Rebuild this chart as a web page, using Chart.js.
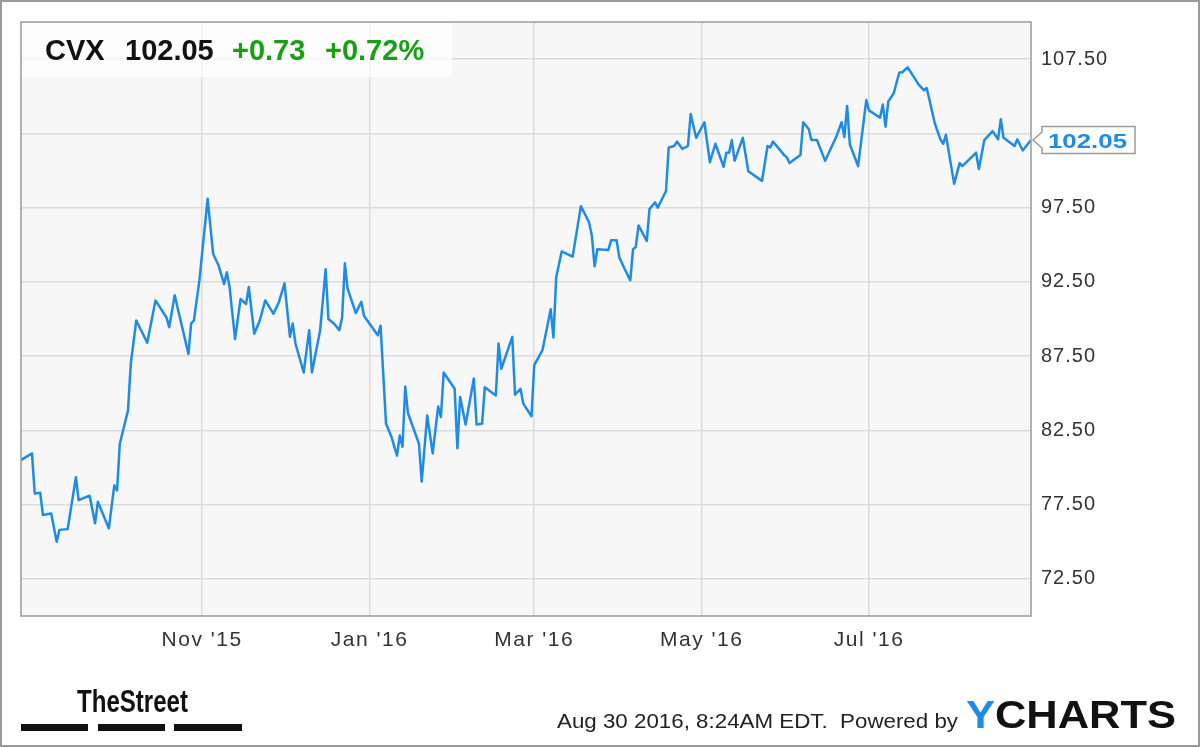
<!DOCTYPE html>
<html>
<head>
<meta charset="utf-8">
<script src="https://cdn.jsdelivr.net/npm/chart.js@4.4.0/dist/chart.umd.min.js"></script>
<style>
html,body{margin:0;padding:0;background:#fff;}
#wrap{width:1200px;height:747px;position:relative;}
canvas{display:block;}
</style>
</head>
<body>
<div id="wrap"><canvas id="c" width="1200" height="747"></canvas></div>
<script>
// ---- data ----
const startDate = '2015-08-27';
const endDate = '2016-08-29';
const dayOffsets = [0,4,5,7,8,11,13,14,17,20,21,25,27,28,32,34,35,36,39,40,42,46,49,53,54,56,61,62,63,65,68,70,72,74,75,76,78,80,82,83,85,87,89,92,94,96,98,99,100,103,105,106,109,111,112,114,116,117,118,119,122,124,125,130,131,133,135,137,138,139,140,141,145,146,148,150,152,153,154,158,159,160,162,165,166,168,169,173,174,175,179,180,182,183,186,187,190,193,194,195,197,201,204,207,208,209,210,214,215,217,218,220,222,223,224,225,228,229,231,232,235,236,238,239,241,243,244,246,249,251,253,256,257,258,259,260,263,265,270,272,273,274,278,279,280,284,285,287,288,290,293,297,299,300,301,302,305,308,309,313,314,315,316,318,320,321,323,326,327,329,330,333,335,336,337,340,342,343,348,349,351,354,356,357,358,362,363,365,368];
const prices = [80.5,80.95,78.25,78.3,76.8,76.9,75.0,75.8,75.85,79.35,77.8,78.1,76.25,77.7,75.9,78.8,78.45,81.6,83.85,87.0,89.9,88.4,91.25,90.1,89.45,91.6,87.65,89.7,89.9,92.6,98.1,94.4,93.6,92.35,93.15,92.15,88.65,91.35,91.0,92.15,89.0,89.9,91.25,90.35,91.15,92.4,88.8,89.7,88.35,86.4,89.25,86.4,89.25,93.35,90.0,89.7,89.25,90.1,93.75,92.05,90.4,91.15,90.2,88.9,89.55,82.95,82.05,80.8,82.15,81.4,85.45,83.65,81.6,79.05,83.5,80.95,84.1,83.4,86.4,85.3,81.3,84.75,82.9,86.0,82.9,82.95,85.4,84.85,88.35,86.65,88.8,84.9,85.3,84.3,83.45,86.9,87.9,90.65,88.75,92.8,94.55,94.2,97.6,96.5,95.6,93.55,94.7,94.65,95.3,95.3,94.15,93.35,92.6,94.7,94.85,96.3,95.25,97.4,97.85,97.5,98.6,101.55,101.65,101.95,101.45,101.65,103.8,102.2,103.25,100.55,101.8,100.25,101.2,101.2,102.05,100.65,102.2,99.95,99.3,101.65,101.55,101.95,101.05,100.9,100.5,101.05,103.25,102.8,102.05,102.05,100.65,102.25,103.25,102.25,104.35,101.75,100.3,104.75,104.05,103.55,104.45,102.95,104.65,105.2,106.6,106.6,106.95,106.1,105.8,105.4,105.55,103.15,102.1,101.8,102.4,99.1,100.5,100.3,101.2,100.1,102.05,102.65,102.1,103.45,102.2,101.65,102.1,101.35,102.05];
const xTickDates = ['2015-11-01','2016-01-01','2016-03-01','2016-05-01','2016-07-01'];
const xTickLabels = ["Nov '15","Jan '16","Mar '16","May '16","Jul '16"];
const yTickValues = [72.5,77.5,82.5,87.5,92.5,97.5,102.5,107.5];
const yMin = 70, yMax = 110;
const ticker = 'CVX';
const lastPrice = 102.05;
const changeAbs = '+0.73';
const changePct = '+0.72%';
const footerText = 'Aug 30 2016, 8:24AM EDT.  Powered by';

// ---- helpers ----
const DAY = 86400000;
function dayOf(s){ return Math.round((Date.parse(s+'T00:00:00Z') - Date.parse(startDate+'T00:00:00Z'))/DAY); }
const xTickDays = xTickDates.map(dayOf);
const xMax = dayOf(endDate);

const LINE = '#1e8ce6';
const GREEN = '#17a017';

function drawFit(ctx, text, x, baseline, width, font, color){
  ctx.save();
  ctx.font = font;
  const w = ctx.measureText(text).width;
  ctx.translate(x, baseline);
  ctx.scale(width / w, 1);
  ctx.fillStyle = color;
  ctx.textBaseline = 'alphabetic';
  ctx.textAlign = 'left';
  ctx.fillText(text, 0, 0);
  ctx.restore();
}

function patchSpacing(scale, sp){
  if (scale._spPatched) return;
  const orig = scale.drawLabels;
  scale.drawLabels = function(ca){
    const c = this.ctx; const prev = c.letterSpacing;
    c.letterSpacing = sp;
    orig.call(this, ca);
    c.letterSpacing = prev || '0px';
  };
  scale._spPatched = true;
}

const decor = {
  id: 'decor',
  beforeDraw(chart){
    const {ctx, chartArea:a} = chart;
    ctx.save();
    ctx.fillStyle = '#ffffff';
    ctx.fillRect(0,0,chart.width,chart.height);
    ctx.fillStyle = '#f7f7f7';
    ctx.fillRect(a.left, a.top, a.right-a.left, a.bottom-a.top);
    ctx.restore();
  },
  afterDraw(chart){
    const {ctx, chartArea:a} = chart;
    ctx.save();
    ctx.letterSpacing = '0px';
    // plot frame
    ctx.strokeStyle = '#9a9a9a';
    ctx.lineWidth = 1.5;
    ctx.strokeRect(a.left, a.top, a.right-a.left, a.bottom-a.top);
    // outer frame
    ctx.strokeStyle = '#9a9a9a';
    ctx.lineWidth = 2;
    ctx.strokeRect(1,1,chart.width-2,chart.height-2);

    // title box
    ctx.fillStyle = 'rgba(255,255,255,0.72)';
    ctx.fillRect(a.left+1, a.top+1, 430, 54);
    const tf = 'bold 29px "Liberation Sans", Arial, sans-serif';
    ctx.font = tf; ctx.textBaseline = 'alphabetic'; ctx.textAlign='left';
    ctx.fillStyle = '#111';
    ctx.fillText(ticker, 45, 60);
    ctx.fillText(lastPrice.toFixed(2), 125, 60);
    ctx.fillStyle = GREEN;
    ctx.fillText(changeAbs, 232, 60);
    ctx.fillText(changePct, 325, 60);

    // price tag
    const py = chart.scales.y.getPixelForValue(lastPrice);
    const bx = 1042, bw = 93, bh = 27;
    const top = py - bh/2, bot = py + bh/2;
    ctx.beginPath();
    ctx.moveTo(a.right + 2, py);
    ctx.lineTo(bx, py - 8);
    ctx.lineTo(bx, top);
    ctx.lineTo(bx + bw, top);
    ctx.lineTo(bx + bw, bot);
    ctx.lineTo(bx, bot);
    ctx.lineTo(bx, py + 8);
    ctx.closePath();
    ctx.fillStyle = '#fff';
    ctx.fill();
    ctx.strokeStyle = '#9a9a9a';
    ctx.lineWidth = 1.5;
    ctx.stroke();
    drawFit(ctx, lastPrice.toFixed(2), 1048, py + 8, 79, 'bold 21px "Liberation Sans", Arial, sans-serif', LINE);

    // TheStreet logo
    drawFit(ctx, 'TheStreet', 77, 712, 111, 'bold 32px "Liberation Sans Narrow", "Liberation Sans", Arial, sans-serif', '#111');
    ctx.fillStyle = '#111';
    [[21,88],[98,165],[174,242]].forEach(([x0,x1])=>{ ctx.fillRect(x0, 724, x1-x0, 7); });

    // footer
    drawFit(ctx, footerText, 557, 728, 401, '20px "Liberation Sans", Arial, sans-serif', '#222');
    // YCHARTS
    ctx.font = 'bold 38px "Liberation Sans", Arial, sans-serif';
    const wY = ctx.measureText('Y').width, wAll = ctx.measureText('YCHARTS').width;
    const sx = 210 / wAll;
    ctx.save();
    ctx.translate(966, 728);
    ctx.scale(sx, 1);
    ctx.fillStyle = LINE; ctx.fillText('Y', 0, 0);
    ctx.fillStyle = '#111'; ctx.fillText('CHARTS', wY, 0);
    ctx.restore();
    ctx.restore();
  }
};

const points = dayOffsets.map((d,i)=>({x:d, y:prices[i]}));

new Chart(document.getElementById('c'), {
  type: 'line',
  data: { datasets: [{
    data: points,
    borderColor: LINE,
    borderWidth: 2.5,
    pointRadius: 0,
    tension: 0,
    fill: false,
    borderJoinStyle: 'round'
  }]},
  options: {
    responsive: false,
    animation: false,
    events: [],
    layout: { padding: { left: 21, top: 21, right: 0, bottom: 0 } },
    plugins: { legend: { display: false }, tooltip: { enabled: false } },
    scales: {
      x: {
        type: 'linear',
        min: 0, max: xMax,
        afterBuildTicks: s => { s.ticks = xTickDays.map(v => ({ value: v })); },
        afterFit: s => { s.height = 131; patchSpacing(s, '1.5px'); },
        ticks: {
          autoSkip: false, maxRotation: 0, minRotation: 0,
          padding: 12,
          color: '#333',
          font: { family: '"Liberation Sans", Arial, sans-serif', size: 21 },
          callback: v => { const i = xTickDays.indexOf(v); return i >= 0 ? xTickLabels[i] : ''; }
        },
        grid: { color: '#dcdcdc', lineWidth: 1.5, drawTicks: false },
        border: { display: false }
      },
      y: {
        position: 'right',
        min: yMin, max: yMax,
        afterBuildTicks: s => { s.ticks = yTickValues.map(v => ({ value: v })); },
        afterFit: s => { s.width = 169; patchSpacing(s, '1px'); },
        ticks: {
          padding: 10,
          color: '#333',
          font: { family: '"Liberation Sans", Arial, sans-serif', size: 20 },
          // the label hidden behind the last-price tag is not shown
          callback: v => Math.abs(v - lastPrice) < 2 ? '' : Number(v).toFixed(2)
        },
        grid: { color: '#dcdcdc', lineWidth: 1.5, drawTicks: false },
        border: { display: false }
      }
    }
  },
  plugins: [decor]
});
</script>
</body>
</html>
